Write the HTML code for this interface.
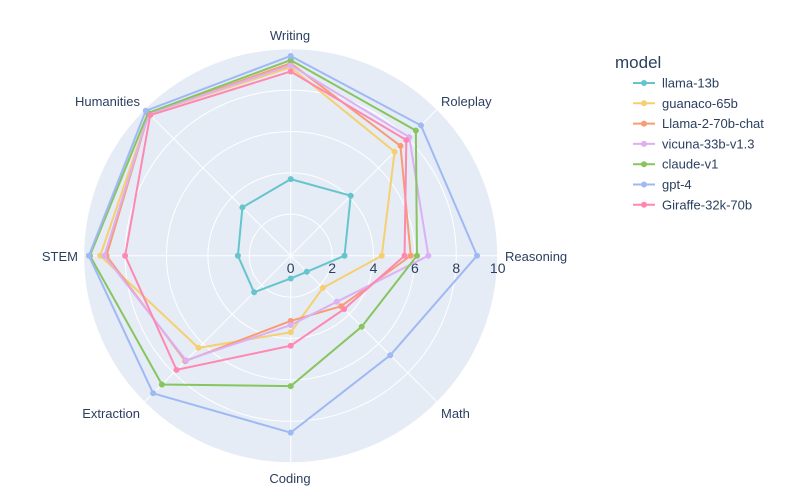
<!DOCTYPE html>
<html><head><meta charset="utf-8"><style>
body{margin:0;background:#fff;}
svg{display:block;font-family:"Liberation Sans",Arial,sans-serif;}
</style></head><body>
<svg id="s" width="800" height="498" viewBox="0 0 800 498"></svg>
<script>
const cx=290.7,cy=255.7,R=207,ns="http://www.w3.org/2000/svg";
const s=document.getElementById('s');
let h='';
h+=`<circle cx="${cx}" cy="${cy}" r="${R}" fill="#e5ecf6"/>`;
for(let v=2;v<=10;v+=2)h+=`<circle cx="${cx}" cy="${cy}" r="${R*v/10}" fill="none" stroke="#fff" stroke-width="1"/>`;
const cats=["Writing","Roleplay","Reasoning","Math","Coding","Extraction","STEM","Humanities"];
function pt(i,v){const a=(90-45*i)*Math.PI/180;return [cx+Math.cos(a)*R*v/10,cy-Math.sin(a)*R*v/10];}
for(let i=0;i<8;i++){const p=pt(i,10);h+=`<line x1="${cx}" y1="${cy}" x2="${p[0]}" y2="${p[1]}" stroke="#fff" stroke-width="1"/>`;}
const lab=[[290,40,"middle"],[441,106,"start"],[505,261,"start"],[441,418,"start"],[290,483,"middle"],[140,418,"end"],[78,261,"end"],[140,106,"end"]];
cats.forEach((c,i)=>{h+=`<text x="${lab[i][0]}" y="${lab[i][1]}" text-anchor="${lab[i][2]}" font-size="13" fill="#2a3f5f">${c}</text>`;});
for(let v=0;v<=10;v+=2)h+=`<text x="${cx+R*v/10}" y="273" text-anchor="middle" font-size="14" fill="#2a3f5f">${v}</text>`;
const series=[
["llama-13b","#66c5cc",[3.7,4.1,2.6,1.1,1.1,2.5,2.55,3.3]],
["guanaco-65b","#f6cf71",[9.1,7.1,4.4,2.2,3.7,6.3,9.2,9.7]],
["Llama-2-70b-chat","#f89c74",[9.3,7.5,5.8,3.45,3.15,7.2,8.9,9.7]],
["vicuna-33b-v1.3","#dcb0f2",[9.2,8.1,6.65,3.15,3.35,7.15,9.0,9.7]],
["claude-v1","#87c55f",[9.45,8.55,6.1,4.85,6.3,8.8,9.7,9.75]],
["gpt-4","#9eb9f3",[9.65,8.9,9.0,6.8,8.55,9.4,9.75,9.9]],
["Giraffe-32k-70b","#fe88b1",[8.9,7.9,5.5,3.65,4.35,7.8,8.0,9.6]]];
series.forEach(([n,c,d],k)=>{
 const ps=d.map((v,i)=>pt(i,v));ps.push(ps[0]);
 h+=`<polyline points="${ps.map(p=>p.join(',')).join(' ')}" fill="none" stroke="${c}" stroke-width="2"/>`;
 ps.slice(0,8).forEach(p=>h+=`<circle cx="${p[0]}" cy="${p[1]}" r="3" fill="${c}"/>`);
 const y=83+k*20.3;
 h+=`<line x1="633" y1="${y}" x2="655" y2="${y}" stroke="${c}" stroke-width="2"/><circle cx="644" cy="${y}" r="3" fill="${c}"/>`;
 h+=`<text x="662" y="${y+4.5}" font-size="13" fill="#2a3f5f">${n}</text>`;
});
h+=`<text x="615" y="68" font-size="17" fill="#2a3f5f">model</text>`;
s.innerHTML=h;
</script>
</body></html>
